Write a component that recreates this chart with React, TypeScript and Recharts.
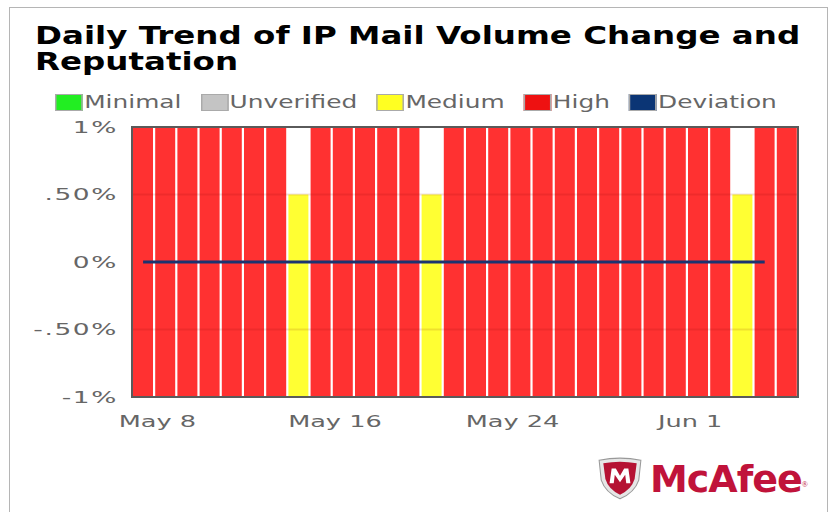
import React from 'react';
import { BarChart, Bar, Cell, Line, XAxis, YAxis, ReferenceLine } from 'recharts';

// days shown, one bar each
const dates = [
  'May 7', 'May 8', 'May 9', 'May 10', 'May 11', 'May 12', 'May 13', 'May 14',
  'May 15', 'May 16', 'May 17', 'May 18', 'May 19', 'May 20', 'May 21', 'May 22',
  'May 23', 'May 24', 'May 25', 'May 26', 'May 27', 'May 28', 'May 29', 'May 30',
  'May 31', 'Jun 1', 'Jun 2', 'Jun 3', 'Jun 4', 'Jun 5',
];

// reputation of the day
const reputation = [
  'High', 'High', 'High', 'High', 'High', 'High', 'High', 'Medium',
  'High', 'High', 'High', 'High', 'High', 'Medium', 'High', 'High',
  'High', 'High', 'High', 'High', 'High', 'High', 'High', 'High',
  'High', 'High', 'High', 'Medium', 'High', 'High',
];

// top of the reputation band (%), bottom is always -1%
const bandTop = [
  1, 1, 1, 1, 1, 1, 1, 0.5,
  1, 1, 1, 1, 1, 0.5, 1, 1,
  1, 1, 1, 1, 1, 1, 1, 1,
  1, 1, 1, 0.5, 1, 1,
];

// volume change deviation (%)
const deviation = [
  0, 0, 0, 0, 0, 0, 0, 0, 0, 0, 0, 0, 0, 0, 0,
  0, 0, 0, 0, 0, 0, 0, 0, 0, 0, 0, 0, 0, 0, null,
];

const xTicks = ['May 8', 'May 16', 'May 24', 'Jun 1'];
const yTicks = [-1, -0.5, 0, 0.5, 1];

const legendItems = [
  { name: 'Minimal', color: '#22ee22' },
  { name: 'Unverified', color: '#c4c4c4' },
  { name: 'Medium', color: '#ffff22' },
  { name: 'High', color: '#ee1111' },
  { name: 'Deviation', color: '#0b3575' },
];

const LEVEL_COLORS: Record<string, string> = {
  High: '#ff3131',
  Medium: '#ffff33',
};

const data = dates.map((d, i) => ({
  date: d,
  band: [-1, bandTop[i]],
  level: reputation[i],
  deviation: deviation[i],
}));

const fmtPct = (v: number) => {
  if (Math.abs(v) === 0.5) return (v < 0 ? '-' : '') + '.50%';
  return v + '%';
};

// the old chart font is very wide, so stretch the text horizontally
const XTick = (props: any) => {
  const { x, y, payload } = props;
  return (
    <g transform={`translate(${x - 8},${y})`}>
      <text transform="scale(1.6,1)" textAnchor="middle" dy="0.71em" fill="#666" fontSize={16} fontFamily="DejaVu Sans">
        {payload.value}
      </text>
    </g>
  );
};

const YTick = (props: any) => {
  const { x, y, payload } = props;
  return (
    <g transform={`translate(${x},${y})`}>
      <text transform="scale(1.65,1)" textAnchor="end" dy="0.36em" fill="#666" fontSize={16} fontFamily="DejaVu Sans" letterSpacing={1}>
        {fmtPct(payload.value)}
      </text>
    </g>
  );
};

const McAfeeLogo = () => (
  <div style={{ position: 'absolute', left: 596, top: 457, display: 'flex', alignItems: 'center' }}>
    <svg width="48" height="44" viewBox="0 0 46 42">
      <path d="M3 3 Q23 -1 43 3 L41 22 Q37 34 23 40 Q9 34 5 22 Z" fill="#e6e6e6" stroke="#999" strokeWidth="1" />
      <path d="M7 6 Q23 3 39 6 L37 21 Q34 31 23 36 Q12 31 9 21 Z" fill="#b51233" />
      <path d="M13 25 L15 11 L19 11 L23 18 L27 11 L31 11 L33 25 L29 25 L28 17 L23 24 L18 17 L17 25 Z" fill="#fff" />
    </svg>
    <span style={{ fontFamily: 'DejaVu Sans', fontWeight: 'bold', fontSize: 38, color: '#c0133a', marginLeft: 6, letterSpacing: -1 }}>
      McAfee
    </span>
    <span style={{ fontSize: 8, color: '#c0133a', alignSelf: 'flex-end', marginBottom: 12 }}>®</span>
  </div>
);

export default function App() {
  return (
    <div style={{ position: 'absolute', left: 0, top: 0, width: 834, height: 512, background: '#fff', overflow: 'hidden' }}>
      {/* outer frame */}
      <div style={{ position: 'absolute', left: 9, top: 7, width: 817, height: 520, border: '1px solid #b5b5b5' }} />

      {/* title */}
      <div
        style={{
          position: 'absolute', left: 35, top: 23, fontFamily: 'DejaVu Sans', fontWeight: 'bold',
          fontSize: 25, lineHeight: '26px', color: '#000', transform: 'scaleX(1.3)', transformOrigin: 'left top',
          whiteSpace: 'nowrap',
        }}
      >
        Daily Trend of IP Mail Volume Change and
        <br />
        Reputation
      </div>

      {/* legend */}
      <div
        style={{
          position: 'absolute', left: 55, top: 92, display: 'flex', alignItems: 'center', fontFamily: 'DejaVu Sans',
          fontSize: 17, color: '#666', transform: 'scaleX(1.46)', transformOrigin: 'left top', whiteSpace: 'nowrap',
        }}
      >
        {legendItems.map((it) => (
          <div key={it.name} style={{ display: 'flex', alignItems: 'center', marginRight: 13 }}>
            <span style={{ display: 'inline-block', width: 17, height: 15, background: it.color, border: '1px solid #aaa', marginRight: 1 }} />
            <span>{it.name}</span>
          </div>
        ))}
      </div>

      <div style={{ position: 'absolute', left: 0, top: 0 }}>
        <BarChart
          width={834}
          height={512}
          data={data}
          margin={{ top: 127, right: 36, bottom: 85, left: 32 }}
          barCategoryGap={1}
        >
          <XAxis
            dataKey="date"
            ticks={xTicks}
            interval={0}
            tickLine={false}
            tickSize={0}
            tickMargin={19}
            axisLine={false}
            height={30}
            tick={<XTick />}
          />
          <YAxis
            domain={[-1, 1]}
            ticks={yTicks}
            tickLine={false}
            tickSize={0}
            tickMargin={14}
            axisLine={false}
            width={100}
            tick={<YTick />}
          />
          <Bar dataKey="band" isAnimationActive={false}>
            {data.map((d, i) => (
              <Cell key={`c-${i}`} fill={LEVEL_COLORS[d.level]} />
            ))}
          </Bar>
          <ReferenceLine y={0.5} stroke="rgba(120,0,0,0.12)" strokeWidth={2} />
          <ReferenceLine y={-0.5} stroke="rgba(120,0,0,0.12)" strokeWidth={2} />
          <Line
            dataKey="deviation"
            stroke="#1c3370"
            strokeWidth={3}
            dot={false}
            isAnimationActive={false}
          />
        </BarChart>
      </div>

      {/* plot border */}
      <div style={{ position: 'absolute', left: 131, top: 126, width: 668, height: 272, border: '2px solid #5a5a5a', boxSizing: 'border-box' }} />

      <McAfeeLogo />
    </div>
  );
}
